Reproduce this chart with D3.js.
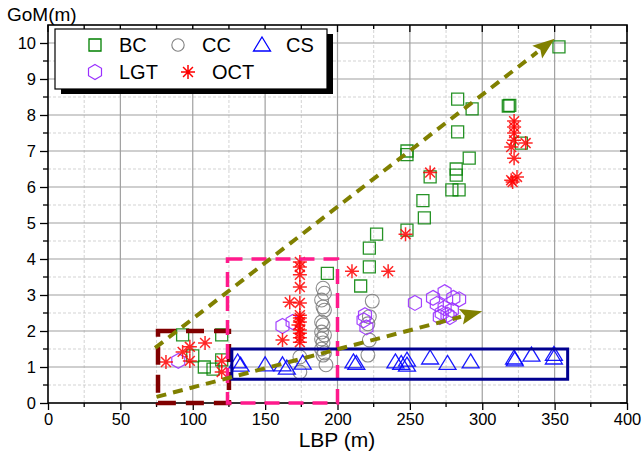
<!DOCTYPE html>
<html><head><meta charset="utf-8">
<script src="https://cdn.jsdelivr.net/npm/d3@7"></script>
<style>body{margin:0;background:#fff;} text{font-family:"Liberation Sans",Arial,sans-serif;}</style>
</head><body><svg id="c" width="642" height="456"></svg>
<script>
const xTicks = [0,50,100,150,200,250,300,350,400];
const yTicks = [0,1,2,3,4,5,6,7,8,9,10];
const bcX = [93,120,100,108,114,120,193,216,222,222,227,248,260,259,264,248,248,279,284,282,282,291,283,283,293,318,319,327,353];
const bcY = [1.89,1.89,1.31,1.0,0.94,1.2,3.6,3.25,3.78,4.3,4.69,4.8,5.14,5.62,6.28,6.9,7.0,5.92,5.92,6.33,6.5,6.8,7.53,8.44,8.17,8.25,8.27,7.22,9.89];
const ccX = [190,191,189,190,191,189,190,189,191,189,190,189,191,190,192,174,174,224,222,221,222,221];
const ccY = [3.19,3.05,2.86,2.67,2.58,2.25,2.17,1.97,1.89,1.78,1.67,1.5,1.39,1.33,1.06,1.28,0.86,2.83,2.4,2.2,1.75,1.33];
const csX = [131,133,150,162,165,176,211,213,240,244,248,248,264,276,292,322,322.5,334,349.5,349.5];
const csY = [1.14,1.05,1.06,1.06,0.97,1.11,1.14,1.1,1.14,1.1,1.19,1.05,1.25,1.1,1.14,1.25,1.2,1.33,1.35,1.25];
const lgtX = [90,162,169,219,218,220,253.5,266,274,280,284,268.6,274,279,272,276,270.7,277.6];
const lgtY = [1.17,2.14,2.25,2.44,2.3,2.1,2.78,2.92,3.08,2.92,2.88,2.75,2.64,2.58,2.5,2.45,2.39,2.39];
const octX = [81.5,93,98,98,108.5,120,120,174,174,174,174,167,174,174,174,174,173,174,174,174,174,162,210,235,247,264,322,322,322,322,320,330,322,320,324,321];
const octY = [1.14,1.42,1.56,1.17,1.67,1.17,0.86,3.92,3.78,3.56,3.22,2.8,2.78,2.44,2.36,2.25,2.17,2.03,1.94,1.81,1.69,1.75,3.66,3.66,4.69,6.4,7.83,7.67,7.5,7.3,7.11,7.22,6.8,6.19,6.28,6.14];
// annotation boxes [x0,y0,x1,y1] and arrows [x0,y0,x1,y1]
const boxDarkRed = [76,0,125,2];
const boxPink = [124,0,200,4];
const boxNavy = [127,0.66,359,1.5];
const arrowUpper = [74,1.53,350,10.12];
const arrowLower = [75,0.17,300,2.55];

const svg = d3.select("#c");
const x = d3.scaleLinear().domain([0,400]).range([48,627]);
const y = d3.scaleLinear().domain([0,10.5]).range([403,25]);
const X0=48,X1=627,Y0=403,Y1=25;

// grid
const g = svg.append("g");
const minorX = d3.range(25,400,50), minorY = d3.range(0.5,10.5,1);
g.selectAll(".mx").data(minorX).enter().append("line").attr("x1",d=>x(d)).attr("x2",d=>x(d)).attr("y1",Y0).attr("y2",Y1).attr("stroke","#c8c8c8").attr("stroke-dasharray","3,2").attr("stroke-width",0.8);
g.selectAll(".my").data(minorY).enter().append("line").attr("y1",d=>y(d)).attr("y2",d=>y(d)).attr("x1",X0).attr("x2",X1).attr("stroke","#c8c8c8").attr("stroke-dasharray","3,2").attr("stroke-width",0.8);
g.selectAll(".Mx").data(xTicks.slice(1,-1)).enter().append("line").attr("x1",d=>x(d)).attr("x2",d=>x(d)).attr("y1",Y0).attr("y2",Y1).attr("stroke","#a0a0a0").attr("stroke-width",1.2);
g.selectAll(".My").data(yTicks.slice(1)).enter().append("line").attr("y1",d=>y(d)).attr("y2",d=>y(d)).attr("x1",X0).attr("x2",X1).attr("stroke","#a0a0a0").attr("stroke-width",1.2);

// axes
const xAx = d3.axisBottom(x).tickValues(xTicks).tickSize(7).tickPadding(3);
const yAx = d3.axisLeft(y).tickValues(yTicks).tickSize(8).tickPadding(4);
const xa = svg.append("g").attr("transform",`translate(0,${Y0})`).call(xAx);
const ya = svg.append("g").attr("transform",`translate(${X0},0)`).call(yAx);
[xa,ya].forEach(a=>{a.select(".domain").remove();a.selectAll("text").attr("font-size",16.5).attr("fill","#000").attr("font-family","Liberation Sans, Arial");a.selectAll("line").attr("stroke","#000").attr("stroke-width",1.3);});
// minor ticks outward
svg.selectAll(".mtx").data(minorX).enter().append("line").attr("x1",d=>x(d)).attr("x2",d=>x(d)).attr("y1",Y0).attr("y2",Y0+4).attr("stroke","#000").attr("stroke-width",1.3);
svg.selectAll(".mty").data(minorY).enter().append("line").attr("y1",d=>y(d)).attr("y2",d=>y(d)).attr("x1",X0-5).attr("x2",X0).attr("stroke","#000").attr("stroke-width",1.3);
// inward ticks on top/right
svg.selectAll(".tt").data(xTicks.concat(minorX)).enter().append("line").attr("x1",d=>x(d)).attr("x2",d=>x(d)).attr("y1",Y1).attr("y2",d=>Y1+(d%50===0?7:4)).attr("stroke","#000").attr("stroke-width",1.3);
svg.selectAll(".rt").data(yTicks.concat(minorY)).enter().append("line").attr("y1",d=>y(d)).attr("y2",d=>y(d)).attr("x1",X1).attr("x2",d=>X1-(d%1===0?7:4)).attr("stroke","#000").attr("stroke-width",1.3);
svg.append("rect").attr("x",X0).attr("y",Y1).attr("width",X1-X0).attr("height",Y0-Y1).attr("fill","none").attr("stroke","#000").attr("stroke-width",1.6);

svg.append("text").attr("x",337).attr("y",447).attr("text-anchor","middle").attr("font-size",21).text("LBP (m)");
svg.append("text").attr("x",7).attr("y",21).attr("font-size",19).text("GoM(m)");

// marker shapes
function sq(s){const h=6;return `M${-h},${-h}H${h}V${h}H${-h}Z`;}
function tri(){return "M0,-8L8.5,6L-8.5,6Z";}
function hex(){const r=7.5;let p=[];for(let i=0;i<6;i++){const a=Math.PI/3*i-Math.PI/2;p.push([r*Math.cos(a),r*Math.sin(a)]);}return "M"+p.map(q=>q.join(",")).join("L")+"Z";}
function ast(){const r=7;let d="";for(let i=0;i<4;i++){const a=Math.PI/4*i;d+=`M${-r*Math.cos(a)},${-r*Math.sin(a)}L${r*Math.cos(a)},${r*Math.sin(a)}`;}return d;}
const mg = svg.append("g");
function plot(xs,ys,path,color,sw,op){
  mg.selectAll(null).data(xs.map((v,i)=>[v,ys[i]])).enter().append("path")
   .attr("d",path).attr("transform",d=>`translate(${x(d[0])},${y(d[1])})`)
   .attr("fill","none").attr("stroke",color).attr("stroke-width",sw).attr("opacity",op);
}
plot(ccX,ccY,d3.symbol(d3.symbolCircle,150)(),"#808080",1.1,0.9);
plot(bcX,bcY,sq(),"#008000",1.3,0.85);
plot(lgtX,lgtY,hex(),"#9a30ff",1.2,0.9);
plot(csX,csY,tri(),"#0000ff",1.3,0.9);
plot(octX,octY,ast(),"#ff0000",1.5,0.85);

// annotations
function box(b,color,w,dash){
  svg.append("rect").attr("x",x(b[0])).attr("y",y(b[3])).attr("width",x(b[2])-x(b[0])).attr("height",y(b[1])-y(b[3]))
   .attr("fill","none").attr("stroke",color).attr("stroke-width",w).attr("stroke-dasharray",dash);
}
box(boxDarkRed,"#800000",4.5,"18,10");
box(boxPink,"#ff1a8c",3.5,"15,9");
box(boxNavy,"#000090",3,null);
function arrow(a){
  const x0=x(a[0]),y0=y(a[1]),x1=x(a[2]),y1=y(a[3]);
  const ang=Math.atan2(y1-y0,x1-x0),L=22,W=8;
  const bx=x1-L*Math.cos(ang),by=y1-L*Math.sin(ang);
  svg.append("line").attr("x1",x0).attr("y1",y0).attr("x2",bx).attr("y2",by).attr("stroke","#808000").attr("stroke-width",4).attr("stroke-dasharray","10,7");
  const px=-Math.sin(ang),py=Math.cos(ang);
  svg.append("path").attr("d",`M${x1},${y1}L${bx+W*px},${by+W*py}L${bx+4*Math.cos(ang)},${by+4*Math.sin(ang)}L${bx-W*px},${by-W*py}Z`).attr("fill","#808000");
}
arrow(arrowUpper); arrow(arrowLower);

// legend
const lg = svg.append("g");
lg.append("rect").attr("x",61).attr("y",34).attr("width",272).attr("height",60).attr("fill","#000");
lg.append("rect").attr("x",55).attr("y",29).attr("width",272).attr("height",60).attr("fill","#fff").attr("stroke","#000").attr("stroke-width",1.2);
const leg = [["BC",95,45,sq(),"#008000",1.3],["CC",178,45,d3.symbol(d3.symbolCircle,120)(),"#808080",1.1],["CS",262,45,tri(),"#0000ff",1.3],["LGT",95,72,hex(),"#9a30ff",1.2],["OCT",188,72,ast(),"#ff0000",1.5]];
leg.forEach(l=>{
  lg.append("path").attr("d",l[3]).attr("transform",`translate(${l[1]},${l[2]})`).attr("fill","none").attr("stroke",l[4]).attr("stroke-width",l[5]);
  lg.append("text").attr("x",l[1]+24).attr("y",l[2]+7).attr("font-size",20).text(l[0]);
});
</script></body></html>
